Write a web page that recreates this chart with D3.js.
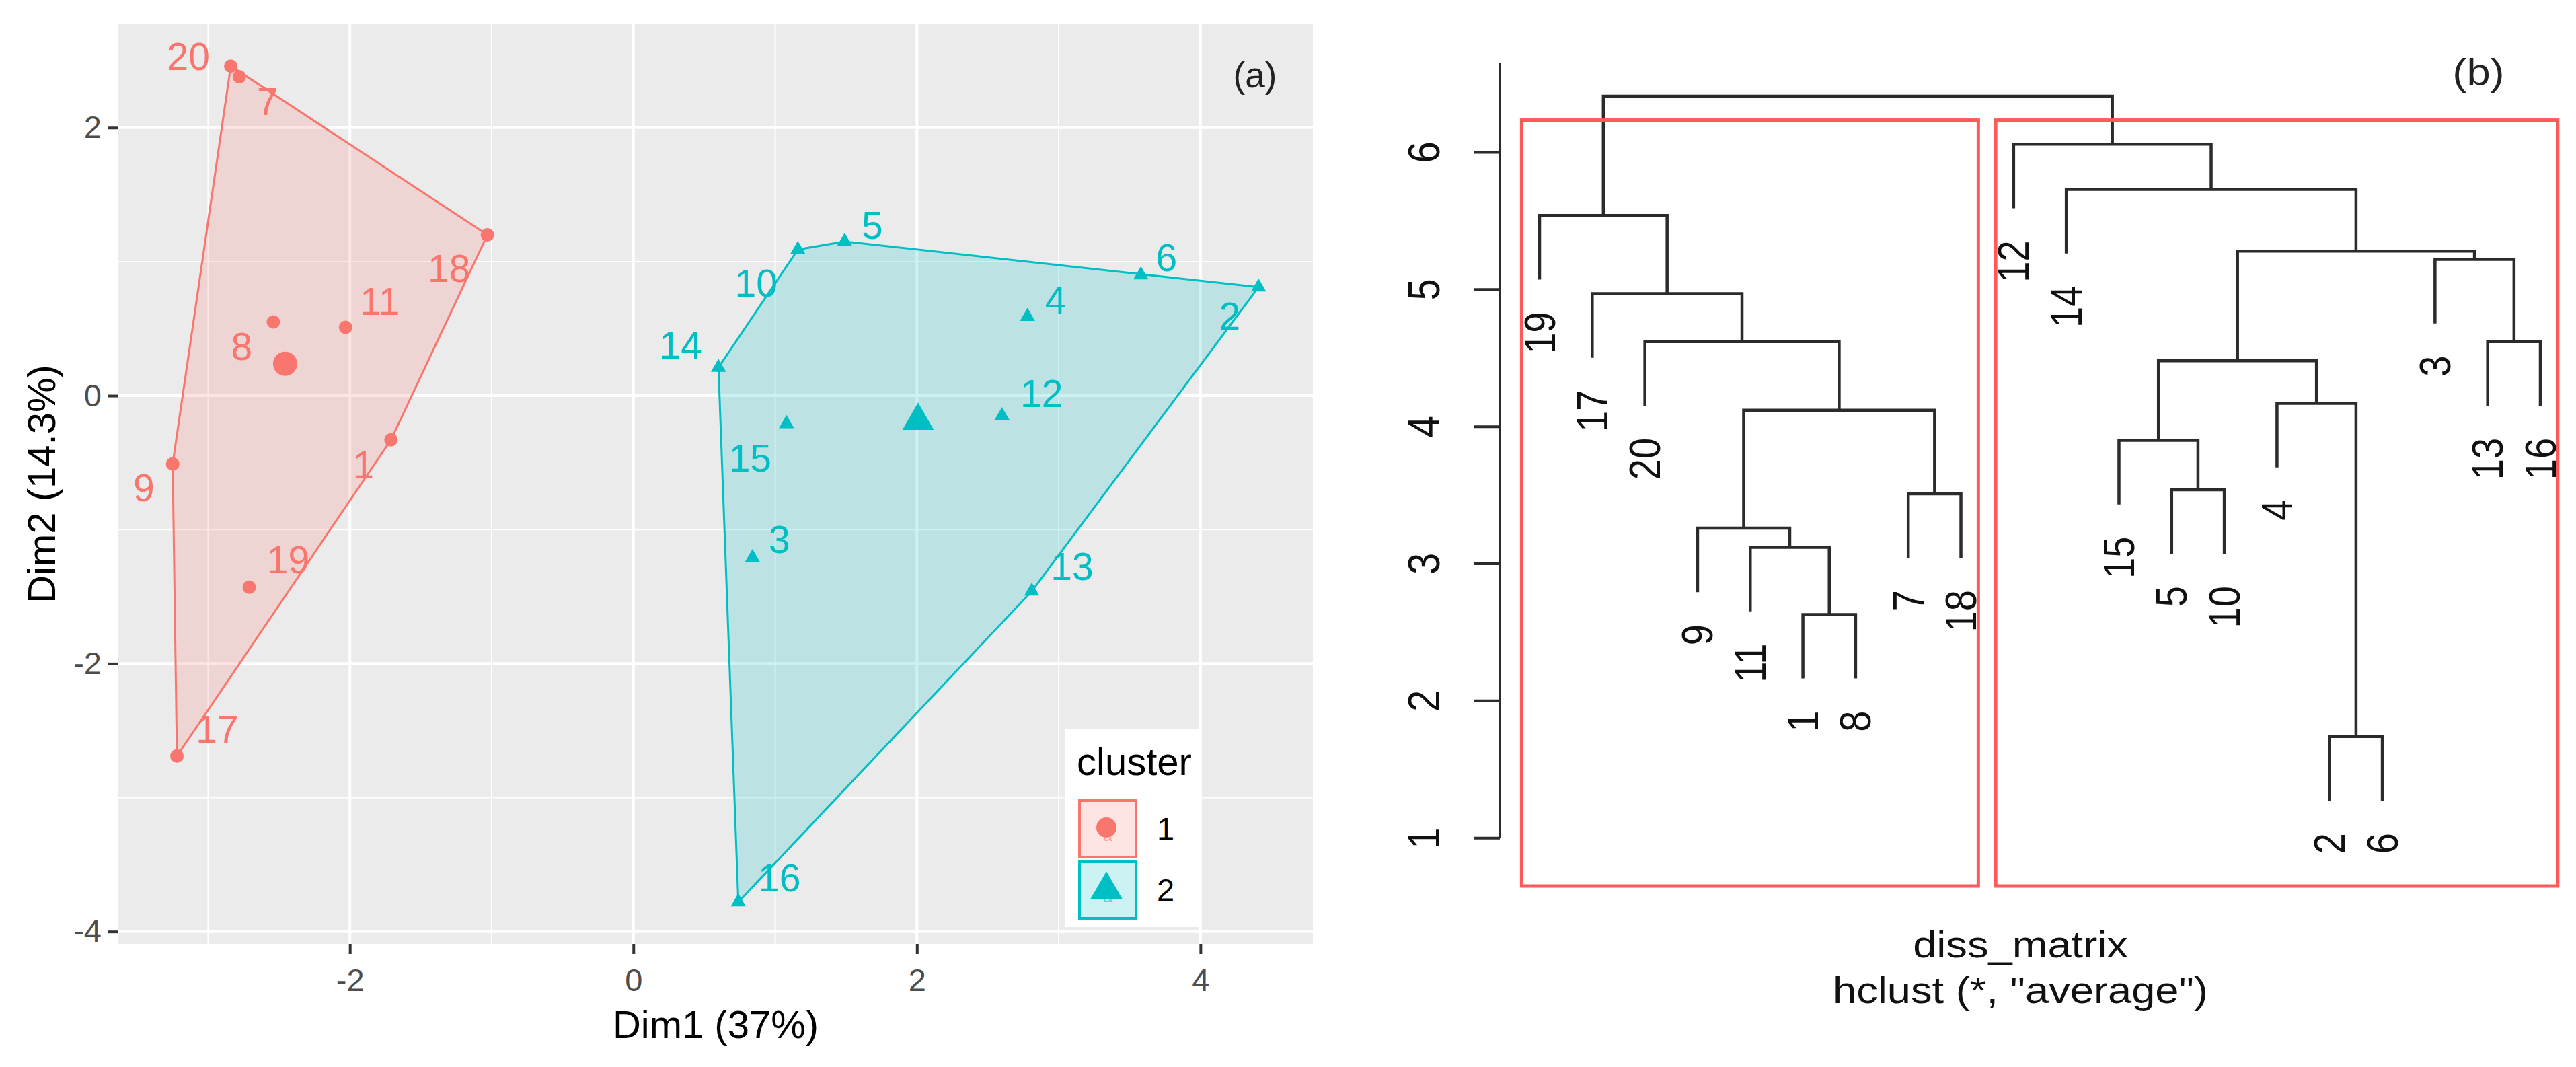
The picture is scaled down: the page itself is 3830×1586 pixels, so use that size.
<!DOCTYPE html>
<html>
<head>
<meta charset="utf-8">
<script src="https://cdn.jsdelivr.net/npm/d3@7"></script>
<style>
    body { margin: 0; background: #fff; }
    text { font-family: "Liberation Sans", Arial, sans-serif; }
</style>
</head>
<body>
<svg id="canvas"></svg>
<script>
// ---- panel (a) data: PCA scores of the 20 samples ----
var ids     = [1, 2, 3, 4, 5, 6, 7, 8, 9, 10, 11, 12, 13, 14, 15, 16, 17, 18, 19, 20];
var dim1    = [-1.71, 4.41, 0.84, 2.78, 1.49, 3.58, -2.78, -2.54, -3.25, 1.16, -2.03, 2.60, 2.81, 0.60, 1.08, 0.74, -3.22, -1.03, -2.71, -2.84];
var dim2    = [-0.33, 0.81, -1.21, 0.59, 1.15, 0.90, 2.38, 0.55, -0.51, 1.09, 0.51, -0.15, -1.46, 0.21, -0.21, -3.78, -2.69, 1.20, -1.43, 2.46];
var cluster = [1, 2, 2, 2, 2, 2, 1, 1, 1, 2, 1, 2, 2, 2, 2, 2, 1, 1, 1, 1];
var clusterNames = [1, 2];
var xTicks = [-2, 0, 2, 4];
var yTicks = [-4, -2, 0, 2];

// ---- panel (b) data: hclust merge table (R style, negative = leaf) ----
var leafOrder   = [19, 17, 20, 9, 11, 1, 8, 7, 18, 12, 14, 15, 5, 10, 4, 2, 6, 3, 13, 16];
var mergeLeft   = [-2, -1, -11, -9, -7, -5, -15, 4, -4, 7, -20, -13, -17, -3, 10, -19, -14, -12, 16];
var mergeRight  = [-6, -8, 2, 3, -18, -10, 6, 5, 1, 9, 8, -16, 11, 12, 14, 13, 15, 17, 18];
var mergeHeight = [1.74, 2.63, 3.12, 3.26, 3.51, 3.54, 3.90, 4.12, 4.17, 4.48, 4.62, 4.62, 4.97, 5.22, 5.28, 5.54, 5.73, 6.06, 6.41];
var hTicks = [1, 2, 3, 4, 5, 6];
var cutK = 2;

// label nudges for panel (a), px offsets of label centre from its point
var labelNudge = {
    1: [-41, 37], 2: [-43, 43], 3: [40, -27], 4: [42, -25], 5: [41, -24],
    6: [38, -26], 7: [42, 37], 8: [-47, 37], 9: [-43, 35], 10: [-62, 50],
    11: [51, -38], 12: [59, -33], 13: [60, -37], 14: [-56, -33], 15: [-54, 51],
    16: [61, -36], 17: [60, -40], 18: [-57, 50], 19: [58, -41], 20: [-63, -14]
};

var W = 3830, H = 1586;
var colors = { 1: '#F8766D', 2: '#00BFC4' };
var fills = { 1: 'rgba(248,118,109,0.2)', 2: 'rgba(0,191,196,0.2)' };

var svg = d3.select('#canvas')
    .attr('width', W)
    .attr('height', H);

svg.append('rect').attr('width', W).attr('height', H).attr('fill', '#fff');

// ================= panel (a) =================
var pa = { left: 176, right: 1952, top: 36, bottom: 1403 };

function expand(ext) {
    var d = (ext[1] - ext[0]) * 0.05;
    return [ext[0] - d, ext[1] + d];
}

var xScale = d3.scaleLinear()
    .domain(expand(d3.extent(dim1)))
    .range([pa.left, pa.right]);

var yScale = d3.scaleLinear()
    .domain(expand(d3.extent(dim2)))
    .range([pa.bottom, pa.top]);

var ga = svg.append('g');

ga.append('rect')
    .attr('x', pa.left).attr('y', pa.top)
    .attr('width', pa.right - pa.left).attr('height', pa.bottom - pa.top)
    .attr('fill', '#EBEBEB');

// minor grid halfway between major ticks
function minors(ticks, domain) {
    var step = ticks[1] - ticks[0];
    var out = [];
    for (var v = ticks[0] - step / 2; v <= domain[1]; v += step) {
        if (v >= domain[0]) out.push(v);
    }
    return out;
}

ga.selectAll('.xminor').data(minors(xTicks, xScale.domain())).enter().append('line')
    .attr('x1', function (d) { return xScale(d); }).attr('x2', function (d) { return xScale(d); })
    .attr('y1', pa.top).attr('y2', pa.bottom)
    .attr('stroke', '#fff').attr('stroke-width', 2);
ga.selectAll('.yminor').data(minors(yTicks, yScale.domain())).enter().append('line')
    .attr('y1', function (d) { return yScale(d); }).attr('y2', function (d) { return yScale(d); })
    .attr('x1', pa.left).attr('x2', pa.right)
    .attr('stroke', '#fff').attr('stroke-width', 2);
ga.selectAll('.xmajor').data(xTicks).enter().append('line')
    .attr('x1', function (d) { return xScale(d); }).attr('x2', function (d) { return xScale(d); })
    .attr('y1', pa.top).attr('y2', pa.bottom)
    .attr('stroke', '#fff').attr('stroke-width', 4);
ga.selectAll('.ymajor').data(yTicks).enter().append('line')
    .attr('y1', function (d) { return yScale(d); }).attr('y2', function (d) { return yScale(d); })
    .attr('x1', pa.left).attr('x2', pa.right)
    .attr('stroke', '#fff').attr('stroke-width', 4);

// axes (plain hyphen minus like R)
var plain = function (d) { return String(d); };
var xAxis = d3.axisBottom(xScale).tickValues(xTicks).tickFormat(plain).tickSize(15).tickPadding(22);
var yAxis = d3.axisLeft(yScale).tickValues(yTicks).tickFormat(plain).tickSize(15).tickPadding(10);

ga.append('g').attr('transform', 'translate(0,' + pa.bottom + ')').call(xAxis)
    .call(function (g) { g.select('.domain').remove(); });
ga.append('g').attr('transform', 'translate(' + pa.left + ',0)').call(yAxis)
    .call(function (g) { g.select('.domain').remove(); });

ga.selectAll('.tick line').attr('stroke', '#333').attr('stroke-width', 4);
ga.selectAll('.tick text')
    .attr('fill', '#4D4D4D')
    .style('font-size', '47px')
    .style('font-family', '"Liberation Sans", Arial, sans-serif');

ga.append('text')
    .attr('x', (pa.left + pa.right) / 2).attr('y', 1543)
    .attr('text-anchor', 'middle')
    .style('font-size', '58px')
    .text('Dim1 (37%)');

ga.append('text')
    .attr('transform', 'translate(82,' + (pa.top + pa.bottom) / 2 + ') rotate(-90)')
    .attr('text-anchor', 'middle')
    .style('font-size', '58px')
    .text('Dim2 (14.3%)');

// points table
var pts = ids.map(function (id, i) {
    return { id: id, x: dim1[i], y: dim2[i], c: cluster[i] };
});

// convex hulls per cluster
clusterNames.forEach(function (c) {
    var p = pts.filter(function (d) { return d.c === c; })
        .map(function (d) { return [xScale(d.x), yScale(d.y)]; });
    var hull = d3.polygonHull(p);
    ga.append('path')
        .attr('d', 'M' + hull.join('L') + 'Z')
        .attr('fill', fills[c])
        .attr('stroke', colors[c])
        .attr('stroke-width', 3);
});

var triSmall = d3.symbol().type(d3.symbolTriangle).size(220);
var triBig = d3.symbol().type(d3.symbolTriangle).size(950);

pts.forEach(function (d) {
    var px = xScale(d.x), py = yScale(d.y);
    if (d.c === 1) {
        ga.append('circle').attr('cx', px).attr('cy', py).attr('r', 10).attr('fill', colors[1]);
    } else {
        ga.append('path').attr('d', triSmall()).attr('transform', 'translate(' + px + ',' + py + ')')
            .attr('fill', colors[2]);
    }
});

// cluster centres
clusterNames.forEach(function (c) {
    var sub = pts.filter(function (d) { return d.c === c; });
    var cx = xScale(d3.mean(sub, function (d) { return d.x; }));
    var cy = yScale(d3.mean(sub, function (d) { return d.y; }));
    if (c === 1) {
        ga.append('circle').attr('cx', cx).attr('cy', cy).attr('r', 18).attr('fill', colors[1]);
    } else {
        ga.append('path').attr('d', triBig()).attr('transform', 'translate(' + cx + ',' + cy + ')')
            .attr('fill', colors[2]);
    }
});

// point labels
ga.selectAll('.plabel').data(pts).enter().append('text')
    .attr('x', function (d) { return xScale(d.x) + labelNudge[d.id][0]; })
    .attr('y', function (d) { return yScale(d.y) + labelNudge[d.id][1]; })
    .attr('dy', '0.35em')
    .attr('text-anchor', 'middle')
    .attr('fill', function (d) { return colors[d.c]; })
    .style('font-size', '57px')
    .text(function (d) { return d.id; });

ga.append('text')
    .attr('x', 1866).attr('y', 130)
    .attr('text-anchor', 'middle')
    .attr('fill', '#222')
    .style('font-size', '53px')
    .text('(a)');

// legend
var lg = ga.append('g');
lg.append('rect').attr('x', 1584).attr('y', 1084).attr('width', 198).attr('height', 294).attr('fill', '#fff');
lg.append('text').attr('x', 1601).attr('y', 1152).style('font-size', '58px').text('cluster');
clusterNames.forEach(function (c, i) {
    var ky = 1190 + i * 91;
    lg.append('rect').attr('x', 1605).attr('y', ky).attr('width', 84).attr('height', 84)
        .attr('fill', fills[c]).attr('stroke', colors[c]).attr('stroke-width', 4);
    lg.append('text').attr('x', 1647).attr('y', ky + 60).attr('text-anchor', 'middle')
        .attr('fill', colors[c]).attr('opacity', 0.6).style('font-size', '26px').text('a');
    if (c === 1) {
        lg.append('circle').attr('cx', 1645).attr('cy', ky + 40).attr('r', 15).attr('fill', colors[c]);
    } else {
        lg.append('path').attr('d', d3.symbol().type(d3.symbolTriangle).size(1000)())
            .attr('transform', 'translate(1645,' + (ky + 42) + ')').attr('fill', colors[c]);
    }
    lg.append('text').attr('x', 1720).attr('y', ky + 42).attr('dy', '0.35em')
        .style('font-size', '47px').text(c);
});

// ================= panel (b) =================
var gb = svg.append('g');
var stretch = 1.15; // the dendrogram image is a bit wider than tall
var hRange = [0.65, 6.65];

var leafScale = d3.scaleLinear()
    .domain([1, leafOrder.length])
    .range([2289, 3777]);

var hScale = d3.scaleLinear()
    .domain(hRange)
    .range([1317, 94]);

var hang = 0.1 * (d3.max(mergeHeight) - d3.min(mergeHeight));
var lineColor = '#2b2b2b';

// x position and height of each merge
var mx = [];
function childX(k) { return k < 0 ? leafOrder.indexOf(-k) + 1 : mx[k - 1]; }

var segs = [];
var leafEnds = {};
mergeHeight.forEach(function (h, i) {
    var a = mergeLeft[i], b = mergeRight[i];
    var xa = childX(a), xb = childX(b);
    mx.push((xa + xb) / 2);
    var ya = a < 0 ? h - hang : mergeHeight[a - 1];
    var yb = b < 0 ? h - hang : mergeHeight[b - 1];
    if (a < 0) leafEnds[-a] = ya;
    if (b < 0) leafEnds[-b] = yb;
    segs.push([[xa, ya], [xa, h], [xb, h], [xb, yb]]);
});

var dline = d3.line()
    .x(function (d) { return leafScale(d[0]); })
    .y(function (d) { return hScale(d[1]); });

gb.selectAll('.seg').data(segs).enter().append('path')
    .attr('d', dline)
    .attr('fill', 'none')
    .attr('stroke', lineColor)
    .attr('stroke-width', 4.5);

// leaf labels, rotated and hanging under each leaf
gb.selectAll('.leaf').data(leafOrder).enter().append('text')
    .attr('transform', function (d, i) {
        return 'translate(' + leafScale(i + 1) + ',' + (hScale(leafEnds[d]) + 48) + ') scale(' + stretch + ',1) rotate(-90)';
    })
    .attr('dy', '0.35em')
    .attr('text-anchor', 'end')
    .attr('fill', '#111')
    .style('font-size', '56px')
    .text(function (d) { return d; });

// y axis
var axX = 2230;
gb.append('line')
    .attr('x1', axX).attr('x2', axX)
    .attr('y1', hScale(hTicks[0])).attr('y2', hScale(hRange[1]))
    .attr('stroke', lineColor).attr('stroke-width', 4);
gb.selectAll('.htick').data(hTicks).enter().append('line')
    .attr('x1', axX - 38).attr('x2', axX)
    .attr('y1', function (d) { return hScale(d); }).attr('y2', function (d) { return hScale(d); })
    .attr('stroke', lineColor).attr('stroke-width', 4);
gb.selectAll('.hlab').data(hTicks).enter().append('text')
    .attr('transform', function (d) {
        return 'translate(2117,' + hScale(d) + ') scale(' + stretch + ',1) rotate(-90)';
    })
    .attr('dy', '0.35em')
    .attr('text-anchor', 'middle')
    .attr('fill', '#111')
    .style('font-size', '58px')
    .text(function (d) { return d; });

// rect.hclust boxes for k = 2
var cutTop = d3.mean(mergeHeight.slice(-cutK));
var leafCluster = leafOrder.map(function (id) { return cluster[ids.indexOf(id)]; });
var groups = [];
leafCluster.forEach(function (c, i) {
    if (i === 0 || c !== leafCluster[i - 1]) groups.push([i + 1, i + 1]);
    else groups[groups.length - 1][1] = i + 1;
});
gb.selectAll('.box').data(groups).enter().append('rect')
    .attr('x', function (d) { return leafScale(d[0] - 0.34); })
    .attr('width', function (d) { return leafScale(d[1] + 0.33) - leafScale(d[0] - 0.34); })
    .attr('y', hScale(cutTop))
    .attr('height', hScale(hRange[0]) - hScale(cutTop))
    .attr('fill', 'none')
    .attr('stroke', '#ff5a5a')
    .attr('stroke-width', 5);

gb.append('text')
    .attr('transform', 'translate(3004,1423) scale(' + stretch + ',1)')
    .attr('text-anchor', 'middle')
    .attr('fill', '#111')
    .style('font-size', '55px')
    .text('diss_matrix');
gb.append('text')
    .attr('transform', 'translate(3004,1491) scale(' + stretch + ',1)')
    .attr('text-anchor', 'middle')
    .attr('fill', '#111')
    .style('font-size', '55px')
    .text('hclust (*, "average")');

gb.append('text')
    .attr('transform', 'translate(3685,126) scale(' + stretch + ',1)')
    .attr('text-anchor', 'middle')
    .attr('fill', '#222')
    .style('font-size', '55px')
    .text('(b)');
</script>
</body>
</html>
